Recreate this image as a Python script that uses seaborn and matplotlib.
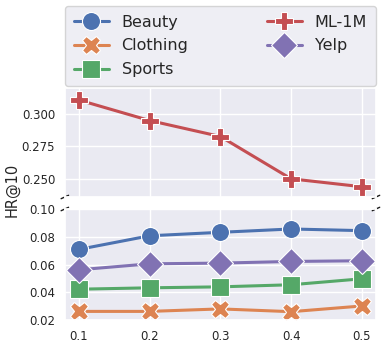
import numpy as np
import pandas as pd
import matplotlib
matplotlib.use("Agg")
import matplotlib.pyplot as plt
import seaborn as sns

# Values
ratios = [0.1, 0.2, 0.3, 0.4, 0.5]
beauty = [0.0709, 0.0807, 0.0832, 0.0856, 0.0844]
clothing = [0.0262, 0.0262, 0.0280, 0.0260, 0.0301]
sports = [0.0422, 0.0432, 0.0439, 0.0454, 0.0497]
ml1m = [0.3107, 0.2949, 0.2826, 0.2500, 0.2439]
yelp = [0.0562, 0.0605, 0.0610, 0.0622, 0.0627]

datasets = ["Beauty", "Clothing", "Sports", "ML-1M", "Yelp"]
series = [beauty, clothing, sports, ml1m, yelp]
markers = {"Beauty": "o", "Clothing": "X", "Sports": "s", "ML-1M": "P", "Yelp": "D"}

df = pd.DataFrame({
    "ratio": ratios * len(datasets),
    "HR@10": np.concatenate(series),
    "dataset": np.repeat(datasets, len(ratios)),
})

sns.set_theme(style="darkgrid")
palette = dict(zip(datasets, sns.color_palette("deep", 5)))

fig = plt.figure(figsize=(3.86, 3.47), dpi=100)
ax_top = fig.add_axes([0.168, 0.4323, 0.806, 0.3141])
ax_bot = fig.add_axes([0.168, 0.0778, 0.806, 0.3199])

for ax in (ax_top, ax_bot):
    sns.lineplot(data=df, x="ratio", y="HR@10", hue="dataset", style="dataset",
                 markers=markers, dashes=False, palette=palette, ax=ax,
                 linewidth=2.2, markersize=13, markeredgecolor="white",
                 markeredgewidth=0.8, legend=(ax is ax_top))

ax_top.set_ylim(0.236, 0.32)
ax_bot.set_ylim(0.02, 0.10)
ax_top.set_yticks([0.25, 0.275, 0.30])
ax_top.set_yticklabels(["0.250", "0.275", "0.300"])
ax_bot.set_yticks([0.02, 0.04, 0.06, 0.08, 0.10])
ax_bot.set_yticklabels(["0.02", "0.04", "0.06", "0.08", "0.10"])
for ax in (ax_top, ax_bot):
    ax.set_xticks(ratios)
    ax.set_xlim(0.08, 0.52)
    ax.set_xlabel("")
    ax.set_ylabel("")
    ax.tick_params(labelsize=8.5, length=0, pad=7)
ax_bot.set_xticklabels(["0.1", "0.2", "0.3", "0.4", "0.5"])
ax_top.tick_params(labelbottom=False)

# broken axis marks
d = 0.012
kw = dict(color="k", clip_on=False, linewidth=1)
ax_top.plot((-d, d), (-d * 1.3, d * 1.3), transform=ax_top.transAxes, **kw)
ax_top.plot((1 - d, 1 + d), (-d * 1.3, d * 1.3), transform=ax_top.transAxes, **kw)
ax_bot.plot((-d, d), (1 - d * 1.3, 1 + d * 1.3), transform=ax_bot.transAxes, **kw)
ax_bot.plot((1 - d, 1 + d), (1 - d * 1.3, 1 + d * 1.3), transform=ax_bot.transAxes, **kw)

fig.text(0.03, 0.452, "HR@10", rotation=90, ha="center", va="center", fontsize=10.5)

handles, labels = ax_top.get_legend_handles_labels()
ax_top.get_legend().remove()
fig.legend(handles, labels, ncol=2, loc="lower left", mode="expand",
           bbox_to_anchor=(0.168, 0.752, 0.806, 0.23), fontsize=11.5,
           frameon=True, facecolor="#EAEAF2", edgecolor="#CCCCCC",
           borderaxespad=0, handlelength=2.2, labelspacing=0.55,
           borderpad=0.55, columnspacing=1.0)

fig.savefig("out.png", dpi=100)
